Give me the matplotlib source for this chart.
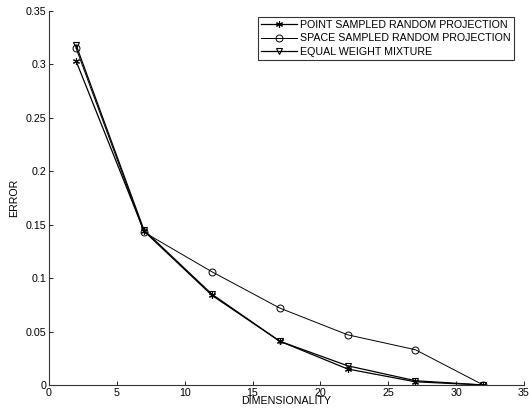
import matplotlib
matplotlib.use("Agg")
import matplotlib.pyplot as plt

dims = [2, 7, 12, 17, 22, 27, 32]
point_sampled = [0.303, 0.144, 0.084, 0.041, 0.015, 0.003, 0.0]
space_sampled = [0.315, 0.143, 0.106, 0.072, 0.047, 0.033, 0.0]
equal_weight = [0.318, 0.145, 0.085, 0.041, 0.018, 0.004, 0.0]
xticks = [0, 5, 10, 15, 20, 25, 30, 35]
yticks = [0, 0.05, 0.1, 0.15, 0.2, 0.25, 0.3, 0.35]
ytick_labels = ["0", "0.05", "0.1", "0.15", "0.2", "0.25", "0.3", "0.35"]

plt.rcParams['font.family'] = ['Liberation Sans', 'DejaVu Sans']
FS = 7.7
fig = plt.figure(figsize=(5.29, 4.18), dpi=100)
ax = fig.add_axes([49/529, 1 - 385/418, (524-49)/529, (385-11)/418])

ax.plot(dims, point_sampled, color='black', lw=0.9, marker=(6, 2, 0), ms=5, mew=0.8,
        label='POINT SAMPLED RANDOM PROJECTION')
ax.plot(dims, space_sampled, color='black', lw=0.7, marker='o', ms=5, mfc='none', mew=0.7,
        label='SPACE SAMPLED RANDOM PROJECTION')
ax.plot(dims, equal_weight, color='black', lw=0.9, marker='v', ms=5, mfc='none', mew=0.8,
        label='EQUAL WEIGHT MIXTURE')

ax.set_xlim(0, 35)
ax.set_ylim(0, 0.35)
ax.set_xticks(xticks)
ax.set_yticks(yticks)
ax.set_yticklabels(ytick_labels)
ax.tick_params(direction='in', length=3, width=0.6, labelsize=FS, pad=2)
for s in ['top', 'right']:
    ax.spines[s].set_visible(False)
for s in ['left', 'bottom']:
    ax.spines[s].set_linewidth(0.8)
    ax.spines[s].set_color('#333333')
ax.set_xlabel('DIMENSIONALITY', fontsize=FS, labelpad=-1)
ax.set_ylabel('ERROR', fontsize=FS, labelpad=5)

leg = ax.legend(loc='upper right', bbox_to_anchor=(1.0 - 10/475, 1.0 - 6/374), fontsize=FS,
                frameon=True, fancybox=False, edgecolor='black', handlelength=3.4,
                handletextpad=0.25, borderpad=0.3, labelspacing=0.3, borderaxespad=0)
leg.get_frame().set_linewidth(0.8)

fig.savefig('out.png', dpi=100)
